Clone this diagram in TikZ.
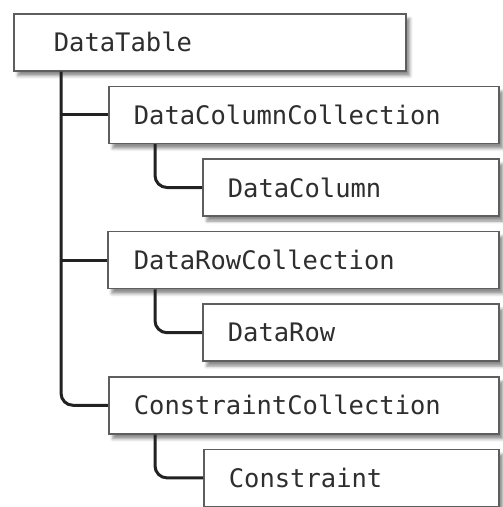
\documentclass[tikz,border=0pt]{standalone}
\usepackage{fontspec}
\setmonofont{DejaVu Sans Mono}
\usetikzlibrary{shadows.blur,calc}
\definecolor{boxline}{HTML}{5E5E5E}
\definecolor{wire}{HTML}{222222}
\definecolor{label}{HTML}{2E2E2E}
\tikzset{
  classbox/.style n args={3}{
    draw=boxline, line width=1.6pt, fill=white, rectangle, anchor=north west,
    minimum height=57pt, inner ysep=0pt, inner xsep=#2,
    text width=#1-2*#2, align=left, text=label,
    font=\ttfamily\fontsize{25.5pt}{28pt}\selectfont,
    blur shadow={shadow xshift=4pt, shadow yshift=-5pt, shadow opacity=45, shadow blur radius=3pt}
  },
  link/.style={draw=wire, line width=3pt, rounded corners=12pt}
}
\begin{document}
\begin{tikzpicture}[x=1pt,y=-1pt]
  \useasboundingbox (0,0) rectangle (503,507);
  % class boxes
  \node[classbox={392pt}{40pt}] (dt)  at (13,13)    {DataTable};
  \node[classbox={390pt}{25pt}] (dcc) at (108,85.6) {DataColumnCollection};
  \node[classbox={296pt}{25pt}] (dc)  at (202,158.2) {DataColumn};
  \node[classbox={391pt}{26pt}] (drc) at (107,230.8) {DataRowCollection};
  \node[classbox={296pt}{25pt}] (dr)  at (202,303.4) {DataRow};
  \node[classbox={390pt}{25pt}] (ccl) at (108,376)   {ConstraintCollection};
  \node[classbox={295pt}{25pt}] (con) at (203,448.6) {Constraint};
  % trunk from DataTable
  \coordinate (trunk) at ($(dt.south west)+(48,0)$);
  \draw[link] (trunk) |- (ccl.west);
  \draw[link] (dcc.west) -- (dcc.west -| trunk);
  \draw[link] (drc.west) -- (drc.west -| trunk);
  % collection to item links
  \coordinate (s1) at ($(dcc.south west)+(47,0)$);
  \coordinate (s2) at ($(drc.south west)+(48,0)$);
  \coordinate (s3) at ($(ccl.south west)+(47,0)$);
  \draw[link] (s1) |- (dc.west);
  \draw[link] (s2) |- (dr.west);
  \draw[link] (s3) |- (con.west);
\end{tikzpicture}
\end{document}
